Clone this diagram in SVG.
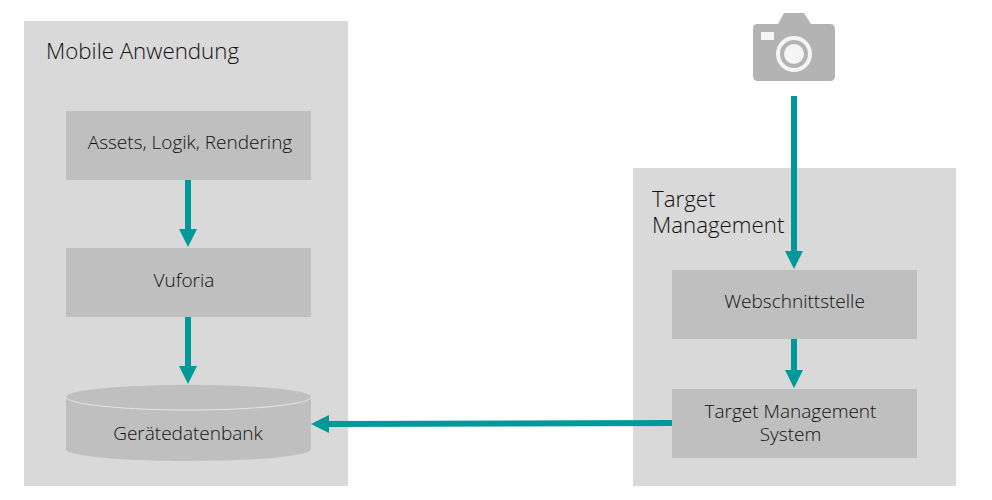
<svg xmlns="http://www.w3.org/2000/svg" width="992" height="500" viewBox="0 0 992 500">
<style>
.panel{fill:#d9d9d9}
.box{fill:#bfbfbf}
.t{font-family:"Open Sans","Noto Sans","Liberation Sans",sans-serif;font-size:19px;fill:#111;font-weight:300}
.c{text-anchor:middle}
.h{font-size:22.300px}
.conn{stroke:#009999;stroke-width:6;fill:none}
.head{fill:#009999}
</style>
<rect width="992" height="500" fill="#fff"/>
<g id="mobile"><rect class="panel" x="24" y="21" width="324" height="465"/><text class="t h" x="46" y="59">Mobile Anwendung</text></g>
<g id="target"><rect class="panel" x="633" y="168" width="323" height="318"/><text class="t h"><tspan x="652" y="207">Target</tspan><tspan x="652" y="233">Management</tspan></text></g>
<g id="assets"><rect class="box" x="66" y="111" width="245" height="69"/><text class="t c" x="190" y="149">Assets, Logik, Rendering</text></g>
<g id="vuforia"><rect class="box" x="66" y="248" width="245" height="69"/><text class="t c" x="184" y="287">Vuforia</text></g>
<g id="db"><path class="box" d="M66 397V449C66 456 121 461 188.500 461S311 456 311 449V397C311 390 256 385 188.500 385S66 390 66 397Z"/><path d="M66 397C66 404 121 410 188.500 410S311 404 311 397" fill="none" stroke="#e4e4e4" stroke-width="1"/><text class="t c" x="188" y="440">Gerätedatenbank</text></g>
<g id="web"><rect class="box" x="672" y="270" width="245" height="69"/><text class="t c" x="794.500" y="308">Webschnittstelle</text></g>
<g id="tms"><rect class="box" x="672" y="389" width="245" height="69"/><text class="t c"><tspan x="790.500" y="418">Target Management</tspan><tspan x="790.500" y="441">System</tspan></text></g>
<g id="camera"><path fill="#b3b3b3" d="M757 24H778L784 13H804L811 24H830Q835 24 835 29V76Q835 81 830 81H758Q753 81 753 76V29Q753 24 757 24Z"/><rect x="761" y="32" width="13" height="8" fill="#f5f5f5"/><circle cx="794" cy="54" r="16" fill="none" stroke="#f5f5f5" stroke-width="4"/><circle cx="794" cy="54" r="10" fill="#f5f5f5"/></g>
<g id="connectors">
<path class="conn" d="M188 180V231"/><path class="head" d="M179 229H197L188 247Z"/>
<path class="conn" d="M188 317V368"/><path class="head" d="M179 366H197L188 384Z"/>
<path class="conn" d="M794 96V253"/><path class="head" d="M785 251H803L794 269Z"/>
<path class="conn" d="M794 339V372"/><path class="head" d="M785 370H803L794 388Z"/>
<path class="conn" d="M672 423L328 424"/><path class="head" d="M329 415V433L311 424Z"/>
</g>
</svg>
